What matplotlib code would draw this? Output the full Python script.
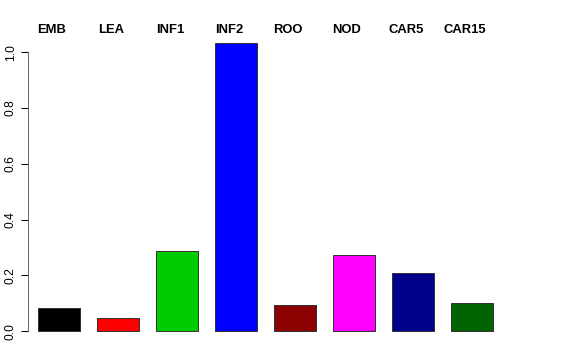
import matplotlib
matplotlib.use('Agg')
import matplotlib.pyplot as plt
import numpy as np

# tissue names and values
tissues = ['EMB', 'LEA', 'INF1', 'INF2', 'ROO', 'NOD', 'CAR5', 'CAR15']
values = [0.082, 0.047, 0.287, 1.032, 0.093, 0.272, 0.208, 0.100]
colors = ['#000000', '#FF0000', '#00CD00', '#0000FF', '#8B0000', '#FF00FF', '#00008B', '#006400']
yticks = [0.0, 0.2, 0.4, 0.6, 0.8, 1.0]

plt.rcParams['font.family'] = ['Liberation Sans', 'DejaVu Sans']

fig = plt.figure(figsize=(8, 5), dpi=72)
ax = fig.add_axes([28 / 576, 17.4 / 360, 532 / 576, 310.6 / 360])

x = np.arange(len(tissues))
ax.bar(x, values, width=0.71, color=colors, edgecolor='#333333', linewidth=1)

ax.set_xlim(-0.525, 8.49)
ax.set_ylim(-0.041, 1.073)

# R-style axis: only the left one, line spanning the ticks
for s in ['top', 'right', 'bottom']:
    ax.spines[s].set_visible(False)
ax.spines['left'].set_bounds(0, 1.0)
ax.spines['left'].set_color('#444444')
ax.set_xticks([])
ax.set_yticks(yticks)
ax.set_yticklabels(['%.1f' % t for t in yticks], rotation=90, va='center', fontsize=12)
ax.tick_params(axis='y', length=7, width=1, pad=4)

# names above the bars
for xi, name in zip(x, tissues):
    ax.text(xi - 0.12, 1.0064, name, transform=ax.get_xaxis_transform(),
            ha='center', va='center', fontsize=13, fontweight='bold', clip_on=False)

fig.savefig('out.png', dpi=72)
